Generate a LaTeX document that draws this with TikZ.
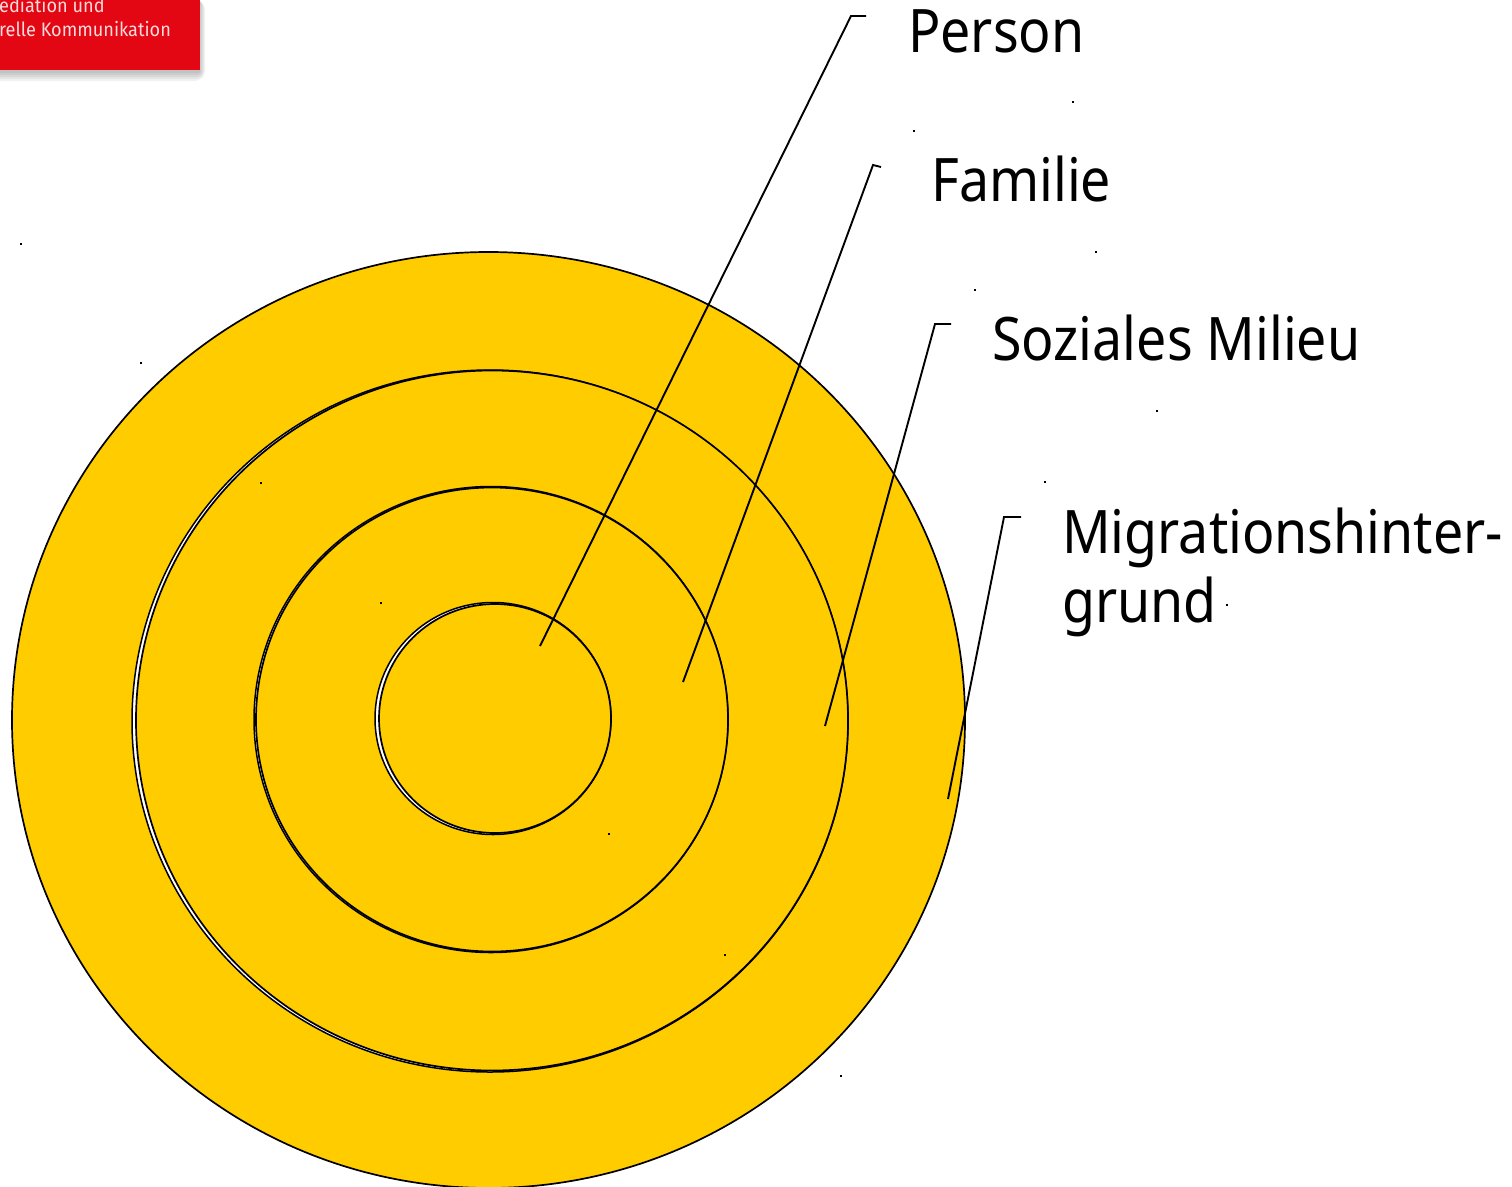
\documentclass[tikz,border=0pt]{standalone}
\usepackage{fontspec}
\setmainfont[FakeStretch=0.895]{Noto Sans}
\newfontfamily\logofont[FakeStretch=0.93]{Fira Sans}
\definecolor{ringyellow}{RGB}{255,204,0}
\definecolor{logored}{RGB}{227,6,19}
\tikzset{
  ring/.style={draw=black,line width=1.7pt,fill=ringyellow},
  halo/.style={draw=black,line width=1.5pt,fill=white},
  leader/.style={draw=black,line width=1.9pt},
  label/.style={anchor=base west,inner sep=0pt,font=\fontsize{60}{60}\selectfont,text=black},
  logotext/.style={anchor=base west,inner sep=0pt,font=\logofont\fontsize{19.5}{20}\selectfont,text=white!85!logored},
  speck/.style={fill=black,draw=none,minimum width=2.6pt,minimum height=2.4pt,inner sep=0pt},
}
\begin{document}
\begin{tikzpicture}[x=1pt,y=-1pt]
\useasboundingbox (0,0) rectangle (1512,1186);
\fill[white] (0,0) rectangle (1512,1186);
\clip (0,0) rectangle (1512,1186);
% logo
\foreach \g in {10,8,6,4,2}{
  \fill[black,opacity=0.05,rounded corners=\g pt] (-20,0) rectangle (199+0.6*\g,71+\g);
}
\fill[logored] (0,0) rectangle (200,70);
\node[logotext] (logoa) at (-1,12) {ediation und};
\node[logotext] (logob) at (-1,36) {relle Kommunikation};
% rings
\path[ring] (488.5,720) ellipse [x radius=476.5,y radius=468];
\path[halo] (490,721) ellipse [x radius=358,y radius=351];
\path[ring] (492,720.5) ellipse [x radius=356,y radius=350];
\path[halo] (491,719.5) ellipse [x radius=237,y radius=233];
\path[ring] (492,719.5) ellipse [x radius=236,y radius=232];
\path[halo] (493,718.5) ellipse [x radius=118,y radius=116];
\path[ring] (495,718.5) ellipse [x radius=116,y radius=114.5];
% labels
\node[label] (person) at (908,52) {Person};
\node[label] (familie) at (931,201) {Familie};
\node[label] (milieu) at (992,360) {Soziales Milieu};
\node[label] (migr) at (1062,553) {Migrationshinter-};
\node[label] (grund) at (1062,622) {grund};
% leaders
\coordinate (pa) at (866,16); \coordinate (pb) at (851,16); \coordinate (pc) at (540,646);
\coordinate (fa) at (881,167); \coordinate (fb) at (873,165); \coordinate (fc) at (683,682);
\coordinate (sa) at (951,324); \coordinate (sb) at (935,324); \coordinate (sc) at (825,726);
\coordinate (ma) at (1021,517); \coordinate (mb) at (1004,517); \coordinate (mc) at (948,799);
\draw[leader] (pa) -- (pb) -- (pc);
\draw[leader] (fa) -- (fb) -- (fc);
\draw[leader] (sa) -- (sb) -- (sc);
\draw[leader] (ma) -- (mb) -- (mc);
% specks
\foreach \n/\x/\y in {a/1073/102,b/914/131,c/21/244,d/141/363,e/261/483,f/381/603,g/609/834,h/725/955,i/841/1076,j/1096/252,k/975/290,l/1157/411,m/1045/482,n/1227/605}{
  \node[speck] (speck\n) at (\x,\y) {};
}
\end{tikzpicture}
\end{document}
